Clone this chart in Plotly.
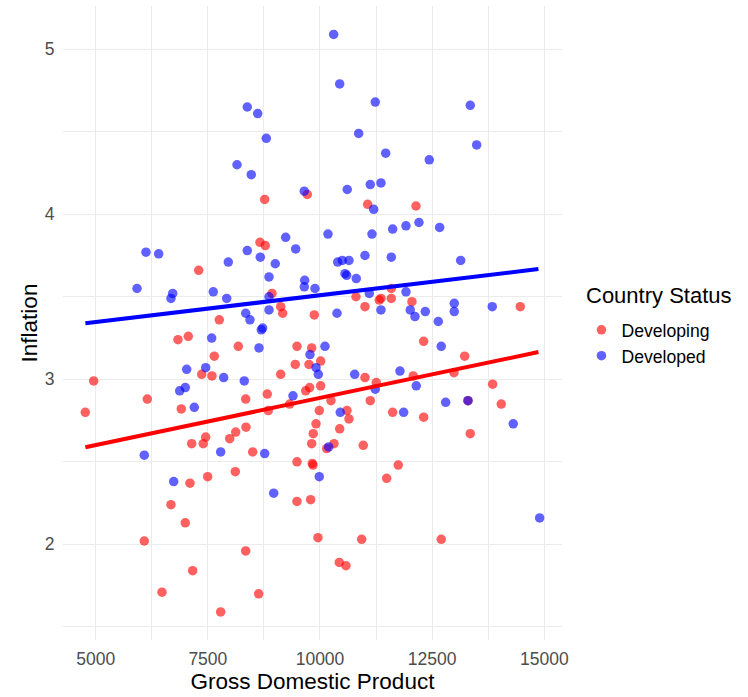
import plotly.graph_objects as go

# Developing countries: GDP and inflation
gdp_developing = [
    8767, 9717, 11063, 12140, 8662, 8780, 7296, 8930, 9124, 9168,
    7755, 6834, 7064, 8179, 9487, 9815, 7644, 7363, 7592, 4955,
    9449, 9754, 9124, 9681, 9770, 8825, 8344, 6150, 6908, 4768,
    8847, 9324, 8350, 8121, 11589, 10802, 11359, 11321, 11589, 12050,
    11003, 14464, 9873, 12311, 13225, 10015, 11003, 12079, 12987, 11255,
    10015, 13849, 10245, 11121, 13299, 14041, 9984, 10602, 10646, 11620,
    12311, 9911, 10439, 13350, 7452, 7987, 7140, 7398, 8500, 9487,
    9828, 9845, 9815, 9850, 10312, 10149, 10965, 7102, 7496, 8112,
    9487, 9792, 6678, 6997, 6083, 8344, 7162, 6478, 8633, 7786,
    11745, 11486, 9955, 10929, 12703, 10430, 10579,
]
infl_developing = [
    4.09, 4.12, 4.06, 4.05, 3.83, 3.81, 3.66, 3.52, 3.44, 3.40,
    3.36, 3.24, 3.26, 3.20, 3.20, 3.19, 3.14, 3.03, 3.02, 2.99,
    3.09, 3.09, 3.03, 2.93, 2.95, 2.91, 2.88, 2.88, 2.82, 2.80,
    2.81, 2.85, 2.71, 2.68, 3.55, 3.50, 3.49, 3.48, 3.49, 3.47,
    3.44, 3.44, 3.39, 3.23, 3.14, 3.11, 3.01, 3.02, 3.04, 2.98,
    2.96, 2.97, 2.87, 2.87, 2.87, 2.85, 2.81, 2.81, 2.76, 2.80,
    2.77, 2.73, 2.70, 2.67, 2.65, 2.64, 2.61, 2.61, 2.56, 2.50,
    2.49, 2.48, 2.61, 2.67, 2.61, 2.58, 2.60, 2.37, 2.41, 2.44,
    2.26, 2.27, 2.24, 2.13, 2.02, 1.96, 1.84, 1.71, 1.70, 1.59,
    2.48, 2.40, 2.04, 2.03, 2.03, 1.89, 1.87,
]

# Developed countries: GDP and inflation
gdp_developed = [
    8379, 8611, 8803, 8150, 8468, 9650, 10305, 10439, 11232, 13350,
    10862, 13493, 11464, 12436, 10608, 11121, 11359, 11197, 9235, 9458,
    6121, 6404, 8379, 8669, 7956, 9003, 8863, 9659, 9650, 5921,
    6716, 6678, 7621, 7920, 8863, 8863, 8344, 8439, 8722, 8691,
    7586, 8640, 9777, 7028, 7452, 7853, 8312, 6872, 6997, 9398,
    7198, 10178, 11159, 11620, 11917, 12206, 12668, 11003, 11589, 10394,
    10497, 10646, 13136, 10557, 10595, 10809, 9888, 11917, 11099, 11359,
    12012, 12117, 12347, 12993, 12993, 13840, 10379, 12637, 10111, 12703,
    9911, 9962, 10773, 11783, 12146, 11232, 12802, 13299, 10452, 11865,
    14308, 6083, 7786, 8767, 6739, 8968, 10194, 9984, 14897,
]
infl_developed = [
    4.65, 4.61, 4.46, 4.30, 4.24, 4.14, 5.09, 4.79, 4.68, 4.66,
    4.49, 4.42, 4.37, 4.33, 4.15, 4.18, 4.19, 4.03, 3.86, 3.79,
    3.77, 3.76, 3.78, 3.74, 3.71, 3.70, 3.62, 3.60, 3.56, 3.55,
    3.52, 3.49, 3.53, 3.49, 3.50, 3.42, 3.40, 3.36, 3.31, 3.30,
    3.25, 3.19, 3.15, 3.06, 3.07, 3.01, 2.99, 2.93, 2.95, 2.90,
    2.83, 3.88, 3.88, 3.91, 3.93, 3.95, 3.92, 3.75, 3.74, 3.71,
    3.72, 3.72, 3.72, 3.64, 3.63, 3.61, 3.55, 3.53, 3.52, 3.42,
    3.42, 3.38, 3.41, 3.46, 3.41, 3.44, 3.40, 3.35, 3.20, 3.20,
    3.07, 3.03, 3.03, 3.05, 2.96, 2.94, 2.86, 2.87, 2.80, 2.80,
    2.73, 2.54, 2.56, 2.55, 2.38, 2.31, 2.59, 2.41, 2.16,
]

# Linear-fit trend lines (GDP endpoints and fitted inflation)
fit_gdp = [4770, 14870]
fit_developing = [2.588, 3.165]
fit_developed = [3.339, 3.668]

FONT = "Liberation Sans, Arial, sans-serif"

fig = go.Figure()
fig.add_trace(go.Scatter(
    x=gdp_developing, y=infl_developing, mode="markers", name="Developing",
    marker=dict(color="#FF0000", size=9.5, opacity=0.62, line=dict(width=0)),
))
fig.add_trace(go.Scatter(
    x=gdp_developed, y=infl_developed, mode="markers", name="Developed",
    marker=dict(color="#0000FF", size=9.5, opacity=0.62, line=dict(width=0)),
))
fig.add_trace(go.Scatter(
    x=fit_gdp, y=fit_developing, mode="lines", showlegend=False,
    line=dict(color="#FF0000", width=4),
))
fig.add_trace(go.Scatter(
    x=fit_gdp, y=fit_developed, mode="lines", showlegend=False,
    line=dict(color="#0000FF", width=4),
))

grid = "#EBEBEB"
fig.update_layout(
    width=748, height=697,
    margin=dict(l=63, r=186, t=6, b=57, autoexpand=False),
    paper_bgcolor="white", plot_bgcolor="white",
    font=dict(family=FONT, color="black"),
    xaxis=dict(
        range=[4271, 15395], tick0=5000, dtick=2500, tickformat="d",
        showgrid=True, gridcolor=grid, gridwidth=1.4,
        minor=dict(tick0=5000, dtick=1250, showgrid=True, gridcolor=grid, gridwidth=1),
        zeroline=False, showline=False,
        ticks="outside", ticklen=3, tickcolor="rgba(0,0,0,0)",
        tickfont=dict(size=17.5, color="#4D4D4D"),
        title=dict(text="Gross Domestic Product", font=dict(size=22.5, color="black"), standoff=4),
    ),
    yaxis=dict(
        range=[1.42, 5.262], tick0=2, dtick=1,
        showgrid=True, gridcolor=grid, gridwidth=1.4,
        minor=dict(tick0=2, dtick=0.5, showgrid=True, gridcolor=grid, gridwidth=1),
        zeroline=False, showline=False,
        ticks="outside", ticklen=4, tickcolor="rgba(0,0,0,0)",
        tickfont=dict(size=17.5, color="#4D4D4D"),
        title=dict(text="Inflation", font=dict(size=22.5, color="black"), standoff=0),
    ),
    legend=dict(
        x=1.039, xanchor="left", y=0.5175, yanchor="top",
        font=dict(size=17.6, color="black"),
        bgcolor="rgba(0,0,0,0)",
    ),
    annotations=[dict(
        text="Country Status", xref="paper", yref="paper",
        x=1.044, xanchor="left", y=0.544, yanchor="middle",
        showarrow=False, font=dict(size=22, color="black"),
    )],
)

fig.write_html("out.html")
